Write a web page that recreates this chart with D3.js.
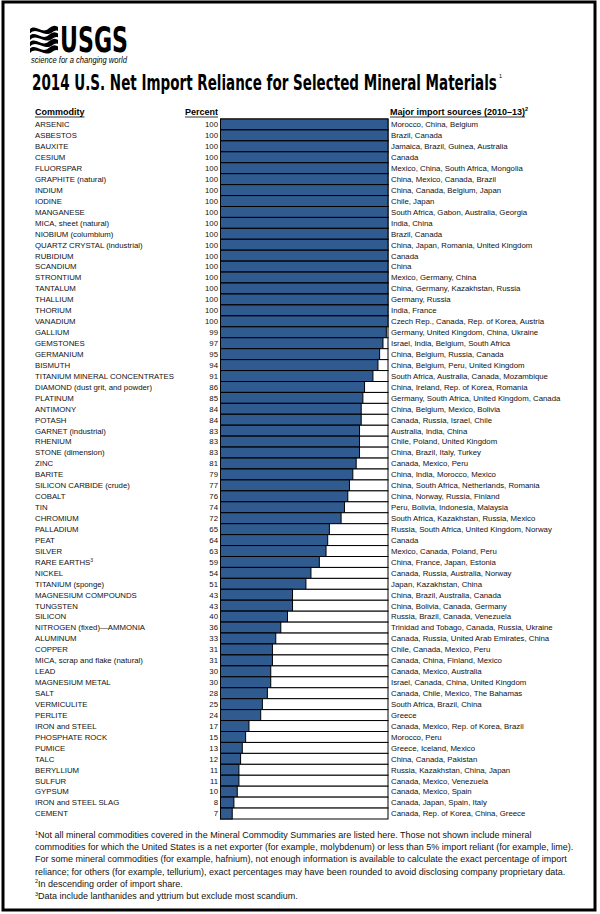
<!DOCTYPE html>
<html>
<head>
<meta charset="utf-8">
<script src="https://cdn.jsdelivr.net/npm/d3@7"></script>
<style>
  body { margin: 0; background: #fff; }
  svg { display: block; font-family: "Liberation Sans", Arial, sans-serif; }
</style>
</head>
<body>
<div id="chart"></div>
<script>
const commodities = [
  'ARSENIC', 'ASBESTOS', 'BAUXITE', 'CESIUM', 'FLUORSPAR', 'GRAPHITE (natural)',
  'INDIUM', 'IODINE', 'MANGANESE', 'MICA, sheet (natural)', 'NIOBIUM (columbium)',
  'QUARTZ CRYSTAL (industrial)', 'RUBIDIUM', 'SCANDIUM', 'STRONTIUM', 'TANTALUM',
  'THALLIUM', 'THORIUM', 'VANADIUM', 'GALLIUM', 'GEMSTONES', 'GERMANIUM', 'BISMUTH',
  'TITANIUM MINERAL CONCENTRATES', 'DIAMOND (dust grit, and powder)', 'PLATINUM',
  'ANTIMONY', 'POTASH', 'GARNET (industrial)', 'RHENIUM', 'STONE (dimension)', 'ZINC',
  'BARITE', 'SILICON CARBIDE (crude)', 'COBALT', 'TIN', 'CHROMIUM', 'PALLADIUM', 'PEAT',
  'SILVER', 'RARE EARTHS', 'NICKEL', 'TITANIUM (sponge)', 'MAGNESIUM COMPOUNDS',
  'TUNGSTEN', 'SILICON', 'NITROGEN (fixed)—AMMONIA', 'ALUMINUM', 'COPPER',
  'MICA, scrap and flake (natural)', 'LEAD', 'MAGNESIUM METAL', 'SALT', 'VERMICULITE',
  'PERLITE', 'IRON and STEEL', 'PHOSPHATE ROCK', 'PUMICE', 'TALC', 'BERYLLIUM',
  'SULFUR', 'GYPSUM', 'IRON and STEEL SLAG', 'CEMENT'
];

const percents = [
  100, 100, 100, 100, 100, 100, 100, 100, 100, 100, 100, 100, 100, 100, 100, 100,
  100, 100, 100, 99, 97, 95, 94, 91, 86, 85, 84, 84, 83, 83, 83, 81, 79, 77, 76, 74,
  72, 65, 64, 63, 59, 54, 51, 43, 43, 40, 36, 33, 31, 31, 30, 30, 28, 25, 24, 17,
  15, 13, 12, 11, 11, 10, 8, 7
];

const sources = [
  'Morocco, China, Belgium', 'Brazil, Canada', 'Jamaica, Brazil, Guinea, Australia',
  'Canada', 'Mexico, China, South Africa, Mongolia', 'China, Mexico, Canada, Brazil',
  'China, Canada, Belgium, Japan', 'Chile, Japan', 'South Africa, Gabon, Australia, Georgia',
  'India, China', 'Brazil, Canada', 'China, Japan, Romania, United Kingdom', 'Canada',
  'China', 'Mexico, Germany, China', 'China, Germany, Kazakhstan, Russia',
  'Germany, Russia', 'India, France', 'Czech Rep., Canada, Rep. of Korea, Austria',
  'Germany, United Kingdom, China, Ukraine', 'Israel, India, Belgium, South Africa',
  'China, Belgium, Russia, Canada', 'China, Belgium, Peru, United Kingdom',
  'South Africa, Australia, Canada, Mozambique', 'China, Ireland, Rep. of Korea, Romania',
  'Germany, South Africa, United Kingdom, Canada', 'China, Belgium, Mexico, Bolivia',
  'Canada, Russia, Israel, Chile', 'Australia, India, China', 'Chile, Poland, United Kingdom',
  'China, Brazil, Italy, Turkey', 'Canada, Mexico, Peru', 'China, India, Morocco, Mexico',
  'China, South Africa, Netherlands, Romania', 'China, Norway, Russia, Finland',
  'Peru, Bolivia, Indonesia, Malaysia', 'South Africa, Kazakhstan, Russia, Mexico',
  'Russia, South Africa, United Kingdom, Norway', 'Canada', 'Mexico, Canada, Poland, Peru',
  'China, France, Japan, Estonia', 'Canada, Russia, Australia, Norway',
  'Japan, Kazakhstan, China', 'China, Brazil, Australia, Canada',
  'China, Bolivia, Canada, Germany', 'Russia, Brazil, Canada, Venezuela',
  'Trinidad and Tobago, Canada, Russia, Ukraine', 'Canada, Russia, United Arab Emirates, China',
  'Chile, Canada, Mexico, Peru', 'Canada, China, Finland, Mexico', 'Canada, Mexico, Australia',
  'Israel, Canada, China, United Kingdom', 'Canada, Chile, Mexico, The Bahamas',
  'South Africa, Brazil, China', 'Greece', 'Canada, Mexico, Rep. of Korea, Brazil',
  'Morocco, Peru', 'Greece, Iceland, Mexico', 'China, Canada, Pakistan',
  'Russia, Kazakhstan, China, Japan', 'Canada, Mexico, Venezuela', 'Canada, Mexico, Spain',
  'Canada, Japan, Spain, Italy', 'Canada, Rep. of Korea, China, Greece'
];

// superscript note markers on some names
const nameNotes = { 'RARE EARTHS': '3' };

const footnotes = [
  ['1', 'Not all mineral commodities covered in the Mineral Commodity Summaries are listed here. Those not shown include mineral'],
  ['', 'commodities for which the United States is a net exporter (for example, molybdenum) or less than 5% import reliant (for example, lime).'],
  ['', 'For some mineral commodities (for example, hafnium), not enough information is available to calculate the exact percentage of import'],
  ['', 'reliance; for others (for example, tellurium), exact percentages may have been rounded to avoid disclosing company proprietary data.'],
  ['2', 'In descending order of import share.'],
  ['3', 'Data include lanthanides and yttrium but exclude most scandium.']
];

const width = 600, height = 914;
const barLeft = 220.5, barRight = 388;
const rowTop = 119, rowBottom = 819;
const blue = '#2f5b90';
const narrow = '"Liberation Sans Narrow", "DejaVu Sans Condensed", sans-serif';

const svg = d3.select('#chart').append('svg')
  .attr('width', width)
  .attr('height', height);

// frame
svg.append('rect')
  .attr('x', 3).attr('y', 2)
  .attr('width', 592).attr('height', 908)
  .attr('fill', 'none')
  .attr('stroke', '#000')
  .attr('stroke-width', 3);

// squeeze a text horizontally to a wanted width
function fitWidth(sel, x0, y0, w, sy) {
  const len = sel.node().getComputedTextLength();
  sel.attr('transform', `translate(${x0}, ${y0}) scale(${w / len}, ${sy})`);
}

// USGS logo
const logo = svg.append('g').attr('transform', 'translate(30, 26)');
const waves = [0, 6.5, 13, 19.5];
waves.forEach(function (dy) {
  logo.append('path')
    .attr('d', `M0,${dy + 3} C6,${dy - 2} 12,${dy + 8} 18,${dy + 3} S26,${dy} 28,${dy + 1} L28,${dy + 5} C24,${dy + 3} 22,${dy + 9} 16,${dy + 8} S5,${dy + 2} 0,${dy + 7.5} Z`)
    .attr('fill', '#000');
});
const usgs = logo.append('text')
  .attr('font-family', narrow)
  .attr('font-weight', 'bold')
  .attr('font-size', 30)
  .text('USGS');
fitWidth(usgs, 30, 26, 68, 1.2);
const tag = logo.append('text')
  .attr('font-style', 'italic')
  .attr('font-size', 8.5)
  .text('science for a changing world');
fitWidth(tag, 1, 37, 96, 1);

// title
const title = svg.append('text')
  .attr('font-family', narrow)
  .attr('font-weight', 'bold')
  .attr('font-size', 19)
  .text('2014 U.S. Net Import Reliance for Selected Mineral Materials');
fitWidth(title, 32, 90, 465, 1.15);
svg.append('text')
  .attr('x', 499).attr('y', 78)
  .attr('font-size', 5.5)
  .text('1');

// headers
function header(x, anchor, label, sup) {
  const t = svg.append('text')
    .attr('x', x).attr('y', 115)
    .attr('text-anchor', anchor)
    .attr('font-weight', 'bold')
    .attr('font-size', 9);
  t.append('tspan').text(label);
  if (sup) t.append('tspan').attr('font-size', 5.5).attr('dy', -4).text(sup);
  const len = t.node().getComputedTextLength();
  const x0 = anchor === 'end' ? x - len : x;
  svg.append('line')
    .attr('x1', x0).attr('x2', x0 + len - (sup ? 3 : 0))
    .attr('y1', 117).attr('y2', 117)
    .attr('stroke', '#000').attr('stroke-width', 0.8);
}
header(35, 'start', 'Commodity');
header(218, 'end', 'Percent');
header(390, 'start', 'Major import sources (2010–13)', '2');

// scales
const x = d3.scaleLinear().domain([0, 100]).range([barLeft, barRight]);
const y = d3.scaleBand().domain(commodities).range([rowTop, rowBottom]).padding(0);
const bw = y.bandwidth();

const rows = svg.append('g').selectAll('g')
  .data(commodities)
  .enter().append('g')
  .attr('transform', d => `translate(0, ${y(d)})`);

// full-width outline (remaining share)
rows.append('rect')
  .attr('x', x(0)).attr('y', 0)
  .attr('width', x(100) - x(0)).attr('height', bw)
  .attr('fill', '#fff')
  .attr('stroke', '#000')
  .attr('stroke-width', 1);

// blue import reliance bar
rows.append('rect')
  .attr('x', x(0)).attr('y', 0)
  .attr('width', (d, i) => x(percents[i]) - x(0)).attr('height', bw)
  .attr('fill', blue)
  .attr('stroke', '#000')
  .attr('stroke-width', 1);

const ty = bw / 2 + 2.8;

const names = rows.append('text')
  .attr('x', 35).attr('y', ty)
  .attr('font-size', 7.8)
  .attr('fill', '#111');
names.append('tspan').text(d => d);
names.filter(d => nameNotes[d]).append('tspan')
  .attr('font-size', 5)
  .attr('dy', -3)
  .text(d => nameNotes[d]);

rows.append('text')
  .attr('x', 218).attr('y', ty)
  .attr('text-anchor', 'end')
  .attr('font-size', 7.8)
  .attr('fill', '#111')
  .text((d, i) => percents[i]);

rows.append('text')
  .attr('x', 391).attr('y', ty)
  .attr('font-size', 7.8)
  .attr('fill', '#111')
  .text((d, i) => sources[i]);

// footnotes
const fn = svg.append('g');
footnotes.forEach(function (f, i) {
  const t = fn.append('text')
    .attr('x', 35).attr('y', 838 + i * 12.2)
    .attr('font-size', 9)
    .attr('fill', '#111');
  if (f[0]) t.append('tspan').attr('font-size', 5.5).attr('dy', -3.5).text(f[0]);
  t.append('tspan').attr('dy', f[0] ? 3.5 : 0).text(f[1]);
});
</script>
</body>
</html>
